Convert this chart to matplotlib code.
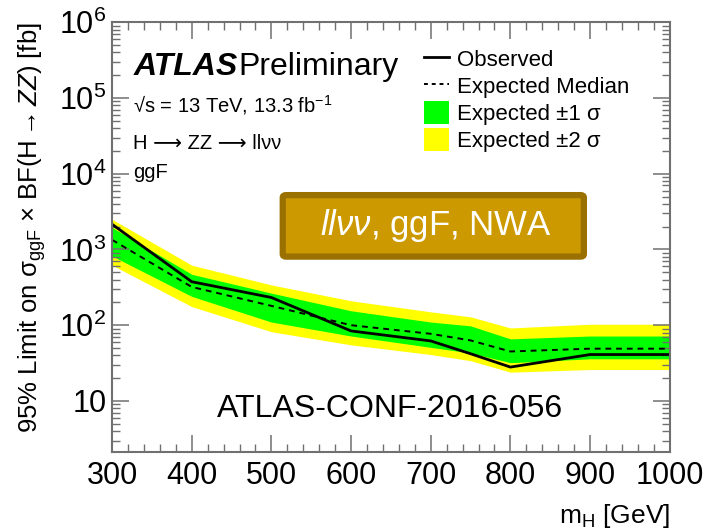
import math

import matplotlib
matplotlib.use('Agg')
import matplotlib.pyplot as plt
from matplotlib.lines import Line2D
from matplotlib.patches import Patch, FancyBboxPatch
from matplotlib.ticker import MultipleLocator, LogLocator, FuncFormatter, NullFormatter

plt.rcParams['font.family'] = ['Liberation Sans', 'DejaVu Sans']
plt.rcParams['mathtext.fontset'] = 'custom'
plt.rcParams['mathtext.rm'] = 'Liberation Sans'
plt.rcParams['mathtext.it'] = 'Liberation Sans:italic'
plt.rcParams['mathtext.bf'] = 'Liberation Sans:bold'
plt.rcParams['mathtext.fallback'] = 'stixsans'

# limits in fb vs. mass hypothesis
mass = [300, 400, 500, 600, 700, 750, 800, 900, 1000]
observed = [2150, 375, 232, 84, 62, 42, 28, 41, 41]
expected = [1340, 320, 180, 100, 77, 63, 45, 49, 49]
plus_1s = [1950, 470, 265, 155, 110, 98, 66, 72, 72]
minus_1s = [820, 240, 110, 72, 51, 43, 32, 36, 36]
plus_2s = [2500, 620, 340, 210, 150, 129, 92, 103, 103]
minus_2s = [620, 176, 82, 55, 41, 34, 24, 26, 26]

frame_col = '#707070'

fig = plt.figure(figsize=(7.05, 5.29), dpi=100)
ax = fig.add_axes([0.159, 0.145, 0.791, 0.813])

ax.fill_between(mass, minus_2s, plus_2s, color='#ffff00', lw=0)
ax.fill_between(mass, minus_1s, plus_1s, color='#00ff00', lw=0)
ax.plot(mass, expected, color='black', ls=(0, (3, 2.5)), lw=1.4)
ax.plot(mass, observed, color='black', lw=2.0)

ax.set_yscale('log')
ax.set_xlim(300, 1000)
ax.set_ylim(2.1, 1e6)

ax.xaxis.set_major_locator(MultipleLocator(100))
ax.xaxis.set_minor_locator(MultipleLocator(20))
ax.yaxis.set_major_locator(LogLocator(base=10, numticks=10))
ax.yaxis.set_minor_locator(LogLocator(base=10, subs=range(2, 10), numticks=20))
ax.yaxis.set_minor_formatter(NullFormatter())


def pow_label(v, pos):
    n = int(round(math.log10(v)))
    if n == 1:
        return '10'
    return r'$10^{%d}$' % n


ax.yaxis.set_major_formatter(FuncFormatter(pow_label))

ax.tick_params(which='both', direction='in', top=True, right=True,
               color=frame_col, labelsize=22)
ax.tick_params(which='major', length=12, width=1.1)
ax.tick_params(which='minor', length=6, width=1.0)
ax.tick_params(axis='x', pad=6)
ax.tick_params(axis='y', pad=4)
for s in ax.spines.values():
    s.set_color(frame_col)
    s.set_linewidth(1.5)

ax.set_xlabel(r'm$_{\rm H}$ [GeV]', fontsize=19, loc='right', labelpad=8)
ax.set_ylabel(r'95% Limit on σ$_{\rm ggF}$ × BF(H${\rightarrow}$$\mathit{ZZ}$) [fb]',
              fontsize=18.5, loc='top', labelpad=8)

# ATLAS labels
ax.text(0.038, 0.895, 'ATLAS', transform=ax.transAxes, fontsize=23,
        fontweight='bold', fontstyle='italic', va='center')
ax.text(0.226, 0.895, 'Preliminary', transform=ax.transAxes, fontsize=23,
        va='center')
ax.text(0.038, 0.807, '√s = 13 TeV, 13.3 fb$^{-1}$', transform=ax.transAxes,
        fontsize=14.5, va='center')
ax.text(0.038, 0.719, 'H ⟶ ZZ ⟶ llνν', transform=ax.transAxes,
        fontsize=14.5, va='center')
ax.text(0.038, 0.651, 'ggF', transform=ax.transAxes, fontsize=14.5, va='center')

handles = [
    Line2D([], [], color='black', lw=2.0),
    Line2D([], [], color='black', ls=(0, (2, 2)), lw=1.4),
    Patch(facecolor='#00ff00', edgecolor='none'),
    Patch(facecolor='#ffff00', edgecolor='none'),
]
labels = ['Observed', 'Expected Median', 'Expected ±1 σ', 'Expected ±2 σ']
ax.legend(handles, labels, loc='upper left', bbox_to_anchor=(0.543, 0.962),
          frameon=False, fontsize=16, handlelength=1.15, handleheight=1.2,
          handletextpad=0.35, labelspacing=0.14, borderaxespad=0)

# channel tag box
box = FancyBboxPatch((0.306, 0.455), 0.54, 0.143, transform=ax.transAxes,
                     boxstyle='round,pad=0,rounding_size=0.006',
                     facecolor='#cc9900', edgecolor='#9a7000', lw=4.5)
ax.add_patch(box)
ax.text(0.58, 0.527, r'$\mathit{ll\nu}\nu$, ggF, NWA', transform=ax.transAxes,
        fontsize=25, color='white', ha='center', va='center')

ax.text(0.499, 0.1, 'ATLAS-CONF-2016-056', transform=ax.transAxes,
        fontsize=23, ha='center', va='center')

fig.savefig('out.png', dpi=100)
